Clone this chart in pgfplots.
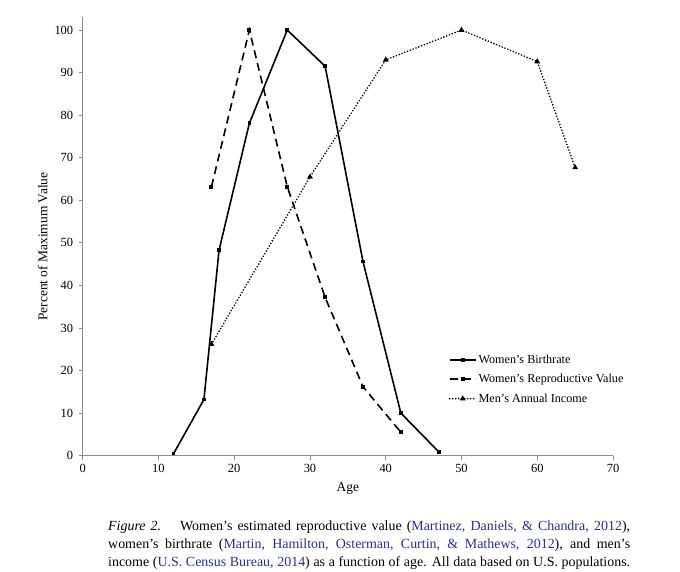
\documentclass[border=0pt]{standalone}
\usepackage{fontspec}
\setmainfont{Liberation Serif}
\usepackage{pgfplots}
\pgfplotsset{compat=1.18}
\definecolor{axgray}{RGB}{140,140,140}
\definecolor{citeblue}{RGB}{40,45,150}
\begin{document}
\begin{tikzpicture}[x=1bp,y=1bp]
\path (0,0) rectangle (680,572);
\begin{axis}[
  at={(82.7bp,116.3bp)}, anchor=south west,
  scale only axis, width=530.3bp, height=438.4bp,
  xmin=0, xmax=70, ymin=0, ymax=103,
  axis x line*=bottom, axis y line*=left,
  axis line style={axgray, line width=0.8bp},
  xtick={0,10,...,70}, ytick={0,10,...,100},
  tick align=outside, major tick length=4bp,
  tick style={axgray, line width=0.8bp},
  /pgf/number format/assume math mode=true,
  ticklabel style={font=\fontsize{12.5}{14}\selectfont},
  yticklabel style={xshift=-2bp},
  xticklabel style={yshift=-1bp},
  xlabel={Age}, ylabel={Percent of Maximum Value},
  every axis x label/.style={at={(axis description cs:0.5,0)}, yshift=-33bp, anchor=center, font=\fontsize{13.5}{15}\selectfont},
  every axis y label/.style={at={(axis description cs:0,0.477)}, xshift=-40bp, rotate=90, anchor=center, font=\fontsize{13.5}{15}\selectfont},
  clip=false,
  legend cell align=left,
  legend style={draw=none, fill=none, at={(0.69,0.235)}, anchor=north west,
    font=\fontsize{12.2}{14}\selectfont, row sep=5.5bp, inner sep=0pt,
    /tikz/every even column/.append style={column sep=0bp}},
  legend image code/.code={\draw[mark repeat=2, mark phase=2, #1] plot coordinates {(0bp,0bp) (13bp,0bp) (26bp,0bp)};},
]
\addplot[black, line width=1.6bp, mark=square*, mark size=1bp] coordinates {
(12,0.5) (16,13.2) (18,48.3) (22,78.1) (27,100) (32,91.5) (37,45.6) (42,10) (47,0.9)};
\addlegendentry{Women's Birthrate}
\addplot[black, line width=1.6bp, dash pattern=on 8bp off 5bp, mark=square*, mark size=1.2bp, mark options={solid}] coordinates {
(17,63.2) (22,100) (27,63.2) (32,37.2) (37,16.2) (42,5.5)};
\addlegendentry{Women's Reproductive Value}
\addplot[black, line width=1.8bp, line cap=round, dash pattern=on 0bp off 3bp, mark=triangle*, mark size=1.6bp, mark options={solid}] coordinates {
(17,26.2) (30,65.5) (40,93) (50,100) (60,92.6) (65,67.7)};
\addlegendentry{Men's Annual Income}
\end{axis}
\node[anchor=base west, inner sep=0pt, text width=522bp, align=justify,
  font=\fontsize{14}{18}\selectfont] at (108,41) {\emph{Figure 2.}\hspace{0.7em} Women’s estimated reproductive value (\textcolor{citeblue}{Martinez, Daniels, \& Chandra, 2012}),\linebreak women’s birthrate (\textcolor{citeblue}{Martin, Hamilton, Osterman, Curtin, \& Mathews, 2012}), and men’s\linebreak income (\textcolor{citeblue}{U.S. Census Bureau, 2014}) as a function of age. All data based on U.S. populations.{\parfillskip=0pt\par}};
\end{tikzpicture}
\end{document}
